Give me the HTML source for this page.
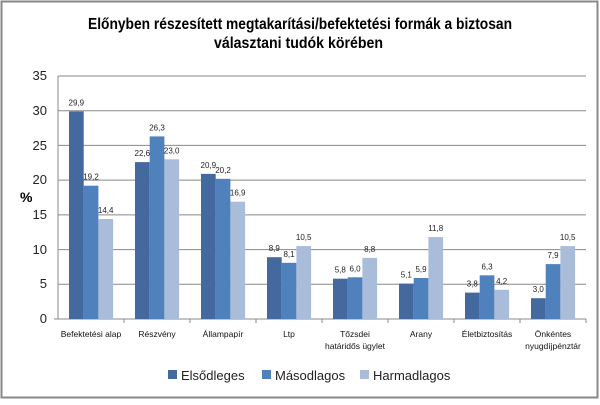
<!DOCTYPE html><html><head><style>body{margin:0;background:#fff}</style></head><body>
<svg width="600" height="400" xmlns="http://www.w3.org/2000/svg" font-family="Liberation Sans, sans-serif">
<rect x="1.5" y="1.5" width="596" height="396" fill="#fff" stroke="#888" stroke-width="2"/>
<text x="88" y="29" font-size="16" font-weight="bold" textLength="424" lengthAdjust="spacingAndGlyphs">Előnyben részesített megtakarítási/befektetési formák a biztosan</text>
<text x="214" y="48" font-size="16" font-weight="bold" textLength="169" lengthAdjust="spacingAndGlyphs">választani tudók körében</text>
<g stroke="#888" stroke-width="1">
<line x1="58" y1="76" x2="586" y2="76"/><line x1="58" y1="110.7" x2="586" y2="110.7"/><line x1="58" y1="145.4" x2="586" y2="145.4"/><line x1="58" y1="180.1" x2="586" y2="180.1"/><line x1="58" y1="214.9" x2="586" y2="214.9"/><line x1="58" y1="249.6" x2="586" y2="249.6"/><line x1="58" y1="284.3" x2="586" y2="284.3"/>
<line x1="58" y1="76" x2="58" y2="319"/><line x1="54" y1="319" x2="586" y2="319"/>
<line x1="124" y1="319" x2="124" y2="323"/><line x1="190" y1="319" x2="190" y2="323"/><line x1="256" y1="319" x2="256" y2="323"/><line x1="322" y1="319" x2="322" y2="323"/><line x1="388" y1="319" x2="388" y2="323"/><line x1="454" y1="319" x2="454" y2="323"/><line x1="520" y1="319" x2="520" y2="323"/><line x1="586" y1="319" x2="586" y2="323"/>
</g>
<g font-size="13" text-anchor="end" fill="#222">
<text x="47" y="80">35</text><text x="47" y="115">30</text><text x="47" y="150">25</text><text x="47" y="184">20</text><text x="47" y="219">15</text><text x="47" y="254">10</text><text x="47" y="288">5</text><text x="47" y="323">0</text></g>
<text x="20" y="202" font-size="14" font-weight="bold">%</text>
<g fill="#43699f">
<rect x="69" y="111.4" width="14.7" height="207.6"/><rect x="135" y="162.1" width="14.7" height="156.9"/><rect x="201" y="173.9" width="14.7" height="145.1"/><rect x="267" y="257.2" width="14.7" height="61.8"/><rect x="333" y="278.7" width="14.7" height="40.3"/><rect x="399" y="283.6" width="14.7" height="35.4"/><rect x="465" y="292.6" width="14.7" height="26.4"/><rect x="531" y="298.2" width="14.7" height="20.8"/>
</g>
<g fill="#4f81bd">
<rect x="83.7" y="185.7" width="14.7" height="133.3"/><rect x="149.7" y="136.4" width="14.7" height="182.6"/><rect x="215.7" y="178.8" width="14.7" height="140.2"/><rect x="281.7" y="262.8" width="14.7" height="56.2"/><rect x="347.7" y="277.3" width="14.7" height="41.7"/><rect x="413.7" y="278" width="14.7" height="41"/><rect x="479.7" y="275.3" width="14.7" height="43.7"/><rect x="545.7" y="264.1" width="14.7" height="54.9"/>
</g>
<g fill="#a9bcd9">
<rect x="98.4" y="219" width="14.7" height="100"/><rect x="164.4" y="159.3" width="14.7" height="159.7"/><rect x="230.4" y="201.7" width="14.7" height="117.3"/><rect x="296.4" y="246.1" width="14.7" height="72.9"/><rect x="362.4" y="257.9" width="14.7" height="61.1"/><rect x="428.4" y="237.1" width="14.7" height="81.9"/><rect x="494.4" y="289.8" width="14.7" height="29.2"/><rect x="560.4" y="246.1" width="14.7" height="72.9"/>
</g>
<g font-size="8" text-anchor="middle" fill="#222">
<text x="76.3" y="105.4">29,9</text><text x="91" y="179.7">19,2</text><text x="105.7" y="213">14,4</text>
<text x="142.3" y="156.1">22,6</text><text x="157" y="130.4">26,3</text><text x="171.7" y="153.3">23,0</text>
<text x="208.3" y="167.9">20,9</text><text x="223" y="172.8">20,2</text><text x="237.7" y="195.7">16,9</text>
<text x="274.3" y="251.2">8,9</text><text x="289" y="256.8">8,1</text><text x="303.7" y="240.1">10,5</text>
<text x="340.3" y="272.7">5,8</text><text x="355" y="271.3">6,0</text><text x="369.7" y="251.9">8,8</text>
<text x="406.3" y="277.6">5,1</text><text x="421" y="272">5,9</text><text x="435.7" y="231.1">11,8</text>
<text x="472.3" y="286.6">3,8</text><text x="487" y="269.3">6,3</text><text x="501.7" y="283.8">4,2</text>
<text x="538.3" y="292.2">3,0</text><text x="553" y="258.1">7,9</text><text x="567.7" y="240.1">10,5</text>
</g>
<g font-size="8.5" text-anchor="middle" fill="#111">
<text x="91" y="337">Befektetési alap</text><text x="157" y="337">Részvény</text><text x="223" y="337">Állampapír</text><text x="289" y="337">Ltp</text>
<text x="355" y="337">Tőzsdei</text><text x="355" y="349">határidős ügylet</text><text x="421" y="337">Arany</text><text x="487" y="337">Életbiztosítás</text>
<text x="553" y="337">Önkéntes</text><text x="553" y="349">nyugdíjpénztár</text>
</g>
<g font-size="13" fill="#222">
<rect x="168" y="370" width="9" height="9" fill="#43699f"/><text x="181" y="380">Elsődleges</text>
<rect x="262" y="370" width="9" height="9" fill="#4f81bd"/><text x="275" y="380">Másodlagos</text>
<rect x="360" y="370" width="9" height="9" fill="#a9bcd9"/><text x="373" y="380">Harmadlagos</text>
</g>
</svg></body></html>
